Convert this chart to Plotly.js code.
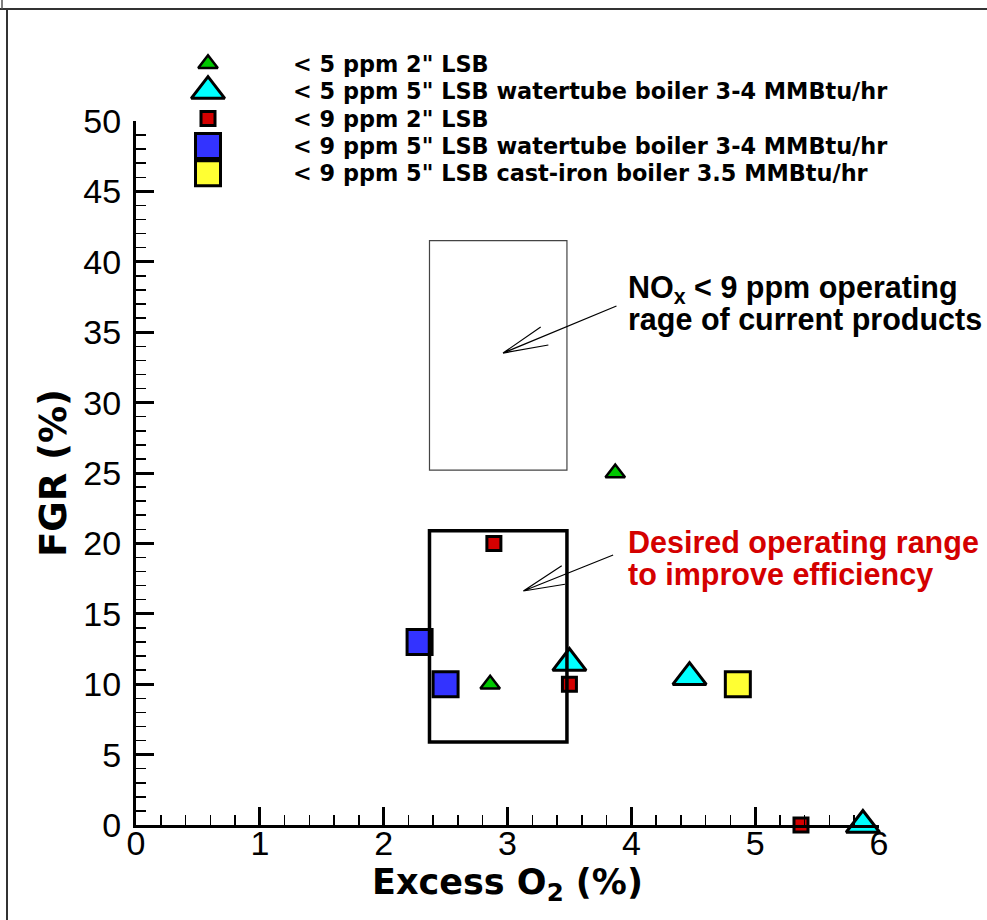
<!DOCTYPE html>
<html>
<head>
<meta charset="utf-8">
<script src="https://cdn.plot.ly/plotly-3.0.1.min.js"></script>
<style>
  html, body { margin: 0; padding: 0; background: #fff; }
  #chart { width: 987px; height: 920px; }
</style>
</head>
<body>
<div id="chart"></div>
<script>
// ---- data ----
const seriesNames = [
  '&lt; 5 ppm 2" LSB',
  '&lt; 5 ppm 5" LSB watertube boiler 3-4 MMBtu/hr',
  '&lt; 9 ppm 2" LSB',
  '&lt; 9 ppm 5" LSB watertube boiler 3-4 MMBtu/hr',
  '&lt; 9 ppm 5" LSB cast-iron boiler 3.5 MMBtu/hr'
];
const o2_5ppm_2in = [2.86, 3.87];
const fgr_5ppm_2in = [10, 25];
const o2_5ppm_5in_wt = [3.5, 4.47, 5.87];
const fgr_5ppm_5in_wt = [11.5, 10.5, 0];
const o2_9ppm_2in = [2.89, 3.5, 5.37];
const fgr_9ppm_2in = [20, 10, 0];
const o2_9ppm_5in_wt = [2.29, 2.5];
const fgr_9ppm_5in_wt = [13, 10];
const o2_9ppm_5in_ci = [4.86];
const fgr_9ppm_5in_ci = [10];

// operating ranges [x0, x1, y0, y1]
const currentRange = [2.37, 3.48, 25.2, 41.5];
const desiredRange = [2.37, 3.48, 5.9, 20.9];

const xTickVals = [0, 1, 2, 3, 4, 5, 6];
const yTickVals = [0, 5, 10, 15, 20, 25, 30, 35, 40, 45, 50];

// ---- styles ----
const styles = [
  {symbol: 'triangle-up', size: 17, color: '#00c800', lw: 2.5},
  {symbol: 'triangle-up', size: 29, color: '#00ffff', lw: 3},
  {symbol: 'square', size: 14, color: '#d40000', lw: 3},
  {symbol: 'square', size: 25, color: '#3333ff', lw: 3},
  {symbol: 'square', size: 25, color: '#ffff33', lw: 3}
];
const seriesX = [o2_5ppm_2in, o2_5ppm_5in_wt, o2_9ppm_2in, o2_9ppm_5in_wt, o2_9ppm_5in_ci];
const seriesY = [fgr_5ppm_2in, fgr_5ppm_5in_wt, fgr_9ppm_2in, fgr_9ppm_5in_wt, fgr_9ppm_5in_ci];

const F = 'Liberation Sans, Arial, Helvetica, sans-serif';
const FB = 'DejaVu Sans, Verdana, sans-serif';

const traces = [];
seriesNames.forEach((name, i) => {
  const st = styles[i];
  traces.push({
    type: 'scatter', mode: 'markers', name: name,
    x: seriesX[i], y: seriesY[i], xaxis: 'x', yaxis: 'y',
    cliponaxis: false, showlegend: false, hoverinfo: 'x+y',
    marker: {symbol: st.symbol, size: st.size, color: st.color,
             line: {color: '#000', width: st.lw}}
  });
});
// custom legend symbols on a hidden helper axis pair
seriesNames.forEach((name, i) => {
  const st = styles[i];
  traces.push({
    type: 'scatter', mode: 'markers', name: name,
    x: [0], y: [i], xaxis: 'x2', yaxis: 'y2',
    cliponaxis: false, showlegend: false, hoverinfo: 'skip',
    marker: {symbol: st.symbol, size: st.size, color: st.color,
             line: {color: '#000', width: st.lw}}
  });
});

const W = 987, H = 920;
const mL = 136, mR = 108, mT = 40, mB = 95;
const plotH = H - mT - mB;   // 785
const plotW = W - mL - mR;   // 743
const py = p => (H - mB - p) / plotH;   // pixel-from-top -> paper y
const px = p => (p - mL) / plotW;       // pixel-from-left -> paper x

const annotations = seriesNames.map((name, i) => ({
  xref: 'paper', yref: 'y2', x: px(291), y: i,
  xanchor: 'left', yanchor: 'middle', showarrow: false,
  text: '<b>' + name + '</b>',
  font: {family: FB, size: 22.4, color: '#000'}
}));
const xOf = p => (p - mL) / plotW * 6;
const yOf = p => (H - mB - p) / (plotH * py(121)) * 50;
annotations.push(
  {xref: 'x', yref: 'y', x: xOf(626), y: yOf(289), xanchor: 'left', yanchor: 'middle', showarrow: false,
   text: '<b>NO<sub>x</sub> &lt; 9 ppm operating</b>', font: {family: F, size: 30.5, color: '#000'}},
  {xref: 'x', yref: 'y', x: xOf(626), y: yOf(319), xanchor: 'left', yanchor: 'middle', showarrow: false,
   text: '<b>rage of current products</b>', font: {family: F, size: 30.5, color: '#000'}},
  {xref: 'x', yref: 'y', x: xOf(626), y: yOf(542), xanchor: 'left', yanchor: 'middle', showarrow: false,
   text: '<b>Desired operating range</b>', font: {family: F, size: 30.5, color: '#d40000'}},
  {xref: 'x', yref: 'y', x: xOf(626), y: yOf(574), xanchor: 'left', yanchor: 'middle', showarrow: false,
   text: '<b>to improve efficiency</b>', font: {family: F, size: 30.5, color: '#d40000'}}
);

const shapes = [
  {type: 'rect', xref: 'x', yref: 'y', x0: currentRange[0], x1: currentRange[1], y0: currentRange[2], y1: currentRange[3],
   line: {color: '#444', width: 1.2}, layer: 'above'},
  {type: 'rect', xref: 'x', yref: 'y', x0: desiredRange[0], x1: desiredRange[1], y0: desiredRange[2], y1: desiredRange[3],
   line: {color: '#000', width: 3.5}, layer: 'above'},
  // arrow to current range (shaft + open head)
  {type: 'path', xref: 'x', yref: 'y', layer: 'above', line: {color: '#000', width: 1.2},
   path: 'M3.880,36.86 L2.964,33.52 M3.268,35.37 L2.964,33.52 L3.330,34.09'},
  // arrow to desired range
  {type: 'path', xref: 'x', yref: 'y', layer: 'above', line: {color: '#000', width: 1.2},
   path: 'M3.853,19.18 L3.128,16.62 M3.438,18.42 L3.128,16.62 L3.464,17.10'},
  // outer frame
  {type: 'line', xref: 'paper', yref: 'paper', x0: px(0), x1: px(W), y0: py(9), y1: py(9),
   line: {color: '#333', width: 2}},
  {type: 'line', xref: 'paper', yref: 'paper', x0: px(7), x1: px(7), y0: py(9), y1: py(H),
   line: {color: '#333', width: 2}},
  {type: 'line', xref: 'paper', yref: 'paper', x0: px(2), x1: px(2), y0: py(0), y1: py(9),
   line: {color: '#555', width: 1.5}}
];

const layout = {
  width: W, height: H,
  margin: {l: mL, r: mR, t: mT, b: mB, pad: 0},
  paper_bgcolor: '#fff', plot_bgcolor: 'rgba(0,0,0,0)',
  showlegend: false,
  font: {family: F, color: '#000'},
  xaxis: {
    domain: [0, 1], range: [0, 6], anchor: 'y',
    tickvals: xTickVals, ticktext: xTickVals.map(String),
    ticks: 'inside', ticklen: 18, tickwidth: 3, tickcolor: '#000',
    minor: {dtick: 0.2, tick0: 0, ticks: 'inside', ticklen: 10, tickwidth: 1.5, tickcolor: '#000', showgrid: false},
    showline: true, linewidth: 3, linecolor: '#000', mirror: false,
    showgrid: false, zeroline: false,
    tickfont: {family: F, size: 34, color: '#000'},
    ticklabelstandoff: -14,
    title: {text: '<b>Excess O<sub>2</sub> (%)</b>', font: {family: FB, size: 35, color: '#000'}, standoff: 9}
  },
  yaxis: {
    domain: [0, py(121)], range: [0, 50], anchor: 'x',
    tickvals: yTickVals, ticktext: yTickVals.map(String),
    ticks: 'inside', ticklen: 18, tickwidth: 3, tickcolor: '#000',
    minor: {dtick: 1, tick0: 0, ticks: 'inside', ticklen: 10, tickwidth: 1.5, tickcolor: '#000', showgrid: false},
    showline: true, linewidth: 3, linecolor: '#000', mirror: false,
    showgrid: false, zeroline: false,
    tickfont: {family: F, size: 34, color: '#000'},
    ticklabelstandoff: 5,
    title: {text: '<b>FGR (%)</b>', font: {family: FB, size: 37, color: '#000'}, standoff: 6}
  },
  xaxis2: {domain: [px(188), px(228)], range: [-1, 1], anchor: 'y2', visible: false, fixedrange: true},
  yaxis2: {domain: [py(187), py(50)], range: [4.5, -0.5], anchor: 'x2', visible: false, fixedrange: true},
  annotations: annotations,
  shapes: shapes
};

Plotly.newPlot('chart', traces, layout, {displayModeBar: false, staticPlot: true});
</script>
</body>
</html>
